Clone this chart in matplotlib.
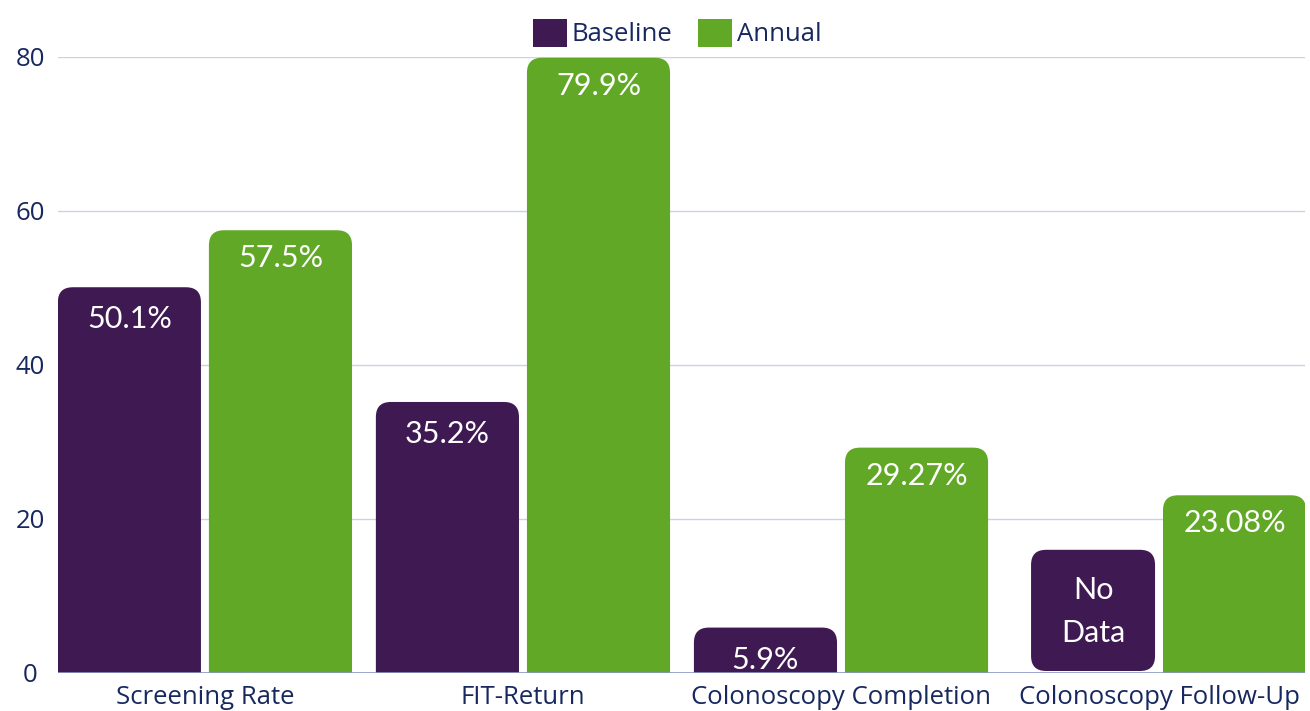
import matplotlib
matplotlib.use("Agg")
import numpy as np
import matplotlib.pyplot as plt
from matplotlib.patches import FancyBboxPatch, Patch

categories = ["Screening Rate", "FIT-Return", "Colonoscopy Completion", "Colonoscopy Follow-Up"]
baseline = [50.1, 35.2, 5.9, None]
annual = [57.5, 79.9, 29.27, 23.08]
baseline_labels = ["50.1%", "35.2%", "5.9%", "No\nData"]
annual_labels = ["57.5%", "79.9%", "29.27%", "23.08%"]
no_data_height = 16
yticks = [0, 20, 40, 60, 80]

PURPLE = "#3f1a52"
GREEN = "#61a826"
NAVY = "#17285e"

plt.rcParams["font.family"] = ["Open Sans", "DejaVu Sans"]

fig = plt.figure(figsize=(13.1, 7.11), dpi=100)
ax = fig.add_axes([58 / 1310, 38 / 711, 1247 / 1310, 616 / 711])

xlim = (-0.462, 3.459)
ylim = (0, 80)
ax.set_xlim(*xlim)
ax.set_ylim(*ylim)

# pixel sizes -> data units, for round corners
ax_w_px, ax_h_px = 1247, 616
x_per_px = (xlim[1] - xlim[0]) / ax_w_px
y_per_px = (ylim[1] - ylim[0]) / ax_h_px
aspect = y_per_px / x_per_px
r = 15 * x_per_px

width = 0.45
offset = 0.2375
x = np.arange(len(categories))


def rounded_bar(x0, w, bottom, top, color, round_bottom=False):
    ext = 0 if round_bottom else 20 * y_per_px
    p = FancyBboxPatch((x0, bottom - ext), w, top - bottom + ext,
                       boxstyle=f"round,pad=0,rounding_size={r}",
                       mutation_aspect=aspect, fc=color, ec="none",
                       zorder=3, clip_on=True)
    ax.add_patch(p)


label_font = dict(family=["Lato", "DejaVu Sans"], fontweight="normal",
                  color="white", fontsize=22, ha="center", va="center", zorder=4)

for i in range(len(categories)):
    xb = x[i] - offset
    xa = x[i] + offset
    if baseline[i] is not None:
        rounded_bar(xb - width / 2, width, 0, baseline[i], PURPLE)
        ax.annotate(baseline_labels[i], (xb, baseline[i]), xytext=(0, -32),
                    textcoords="offset pixels", **label_font)
    else:
        w2 = 124 * x_per_px
        rounded_bar(xb + width / 2 - w2, w2, 2 * y_per_px, no_data_height, PURPLE,
                    round_bottom=True)
        ax.text(xb + width / 2 - w2 / 2, no_data_height / 2, baseline_labels[i],
                linespacing=1.65, **label_font)
    rounded_bar(xa - width / 2, width, 0, annual[i], GREEN)
    ax.annotate(annual_labels[i], (xa, annual[i]), xytext=(0, -28),
                textcoords="offset pixels", **label_font)

ax.set_yticks(yticks)
for t in yticks[1:]:
    ax.axhline(t, color="#cdd2e2", lw=1, zorder=1)
ax.axhline(0, color="#8a97c2", lw=1.2, zorder=5)
for s in ax.spines.values():
    s.set_visible(False)
ax.set_xticks(x)
ax.set_xticklabels(categories)
ax.tick_params(axis="both", length=0, labelsize=18.5, colors=NAVY)
ax.tick_params(axis="y", pad=20)
ax.tick_params(axis="x", pad=9)
for lbl in ax.get_yticklabels():
    lbl.set_horizontalalignment("center")

handles = [Patch(fc=PURPLE, label="Baseline"), Patch(fc=GREEN, label="Annual")]
fig.legend(handles=handles, loc="upper center", bbox_to_anchor=(0.517, 1.006),
           ncol=2, frameon=False, fontsize=18.5, labelcolor=NAVY,
           handlelength=1.3, handleheight=1.3, handletextpad=0.2,
           columnspacing=1.0)

plt.savefig("out.png", dpi=100)
